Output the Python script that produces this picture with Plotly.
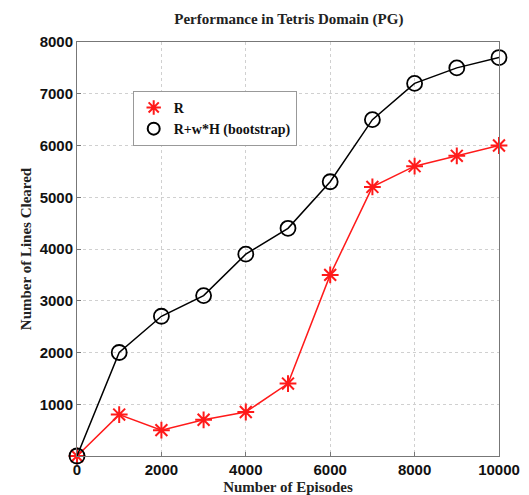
import plotly.graph_objects as go

episodes = [0, 1000, 2000, 3000, 4000, 5000, 6000, 7000, 8000, 9000, 10000]
r_values = [0, 800, 500, 700, 850, 1400, 3500, 5200, 5600, 5800, 6000]
rwh_values = [0, 2000, 2700, 3100, 3900, 4400, 5300, 6500, 7200, 7500, 7700]
x_ticks = [0, 2000, 4000, 6000, 8000, 10000]
x_tick_labels = ["0", "2000", "4000", "6000", "8000", "10000"]
y_ticks = [1000, 2000, 3000, 4000, 5000, 6000, 7000, 8000]
y_tick_labels = ["1000", "2000", "3000", "4000", "5000", "6000", "7000", "8000"]

RED = "#ff1a1a"
fig = go.Figure()
fig.add_trace(go.Scatter(
    x=episodes, y=r_values, mode="lines+markers", name="R", showlegend=False,
    line=dict(color=RED, width=1.5),
    marker=dict(symbol="asterisk-open", size=14, color=RED, line=dict(color=RED, width=2)),
    cliponaxis=False,
))
fig.add_trace(go.Scatter(
    x=episodes, y=rwh_values, mode="lines+markers", name="R+w*H (bootstrap)", showlegend=False,
    line=dict(color="black", width=1.5),
    marker=dict(symbol="circle-open", size=15, color="black", line=dict(color="black", width=1.8)),
    cliponaxis=False,
))
# legend entries (marker only, like the original)
fig.add_trace(go.Scatter(
    x=[None], y=[None], mode="markers", name="R",
    marker=dict(symbol="asterisk-open", size=14, color=RED, line=dict(color=RED, width=2.5)),
))
fig.add_trace(go.Scatter(
    x=[None], y=[None], mode="markers", name="R+w*H (bootstrap)",
    marker=dict(symbol="circle-open", size=15, color="black", line=dict(color="black", width=1.8)),
))

serif = "Liberation Serif"
sans = "Liberation Sans"
fig.update_layout(
    width=529, height=495,
    margin=dict(l=77, r=30, t=42, b=39),
    paper_bgcolor="white", plot_bgcolor="white",
    showlegend=True,
    title=dict(text="Performance in Tetris Domain (PG)", x=0.546, xanchor="center",
               y=0.963, yanchor="middle",
               font=dict(family=serif, size=15, color="#222", weight="bold")),
    legend=dict(x=0.132, y=0.882, xanchor="left", yanchor="top",
                bgcolor="white", bordercolor="#999", borderwidth=1,
                font=dict(family=serif, size=14, color="#111", weight="bold"),
                itemwidth=30, tracegroupgap=0, itemsizing="constant"),
    xaxis=dict(range=[0, 10000], tickvals=x_ticks, ticktext=x_tick_labels, showgrid=True,
               gridcolor="#d0d0d0", griddash="dot", gridwidth=1,
               showline=True, linecolor="#777", mirror=True, zeroline=False,
               ticks="inside", ticklen=4, tickcolor="#777",
               tickfont=dict(family=sans, size=15, color="#111", weight="bold"),
               automargin=False,
               title=dict(text="Number of Episodes", standoff=9,
                          font=dict(family=serif, size=15, color="#222", weight="bold"))),
    yaxis=dict(range=[0, 8000], tickvals=y_ticks, ticktext=y_tick_labels, showgrid=True,
               gridcolor="#d0d0d0", griddash="dot", gridwidth=1,
               showline=True, linecolor="#777", mirror=True, zeroline=False,
               ticks="inside", ticklen=4, tickcolor="#777",
               tickfont=dict(family=sans, size=15, color="#111", weight="bold"),
               automargin=False,
               title=dict(text="Number of Lines Cleared", standoff=4,
                          font=dict(family=serif, size=15, color="#222", weight="bold"))),
)

fig.write_html("out.html")
